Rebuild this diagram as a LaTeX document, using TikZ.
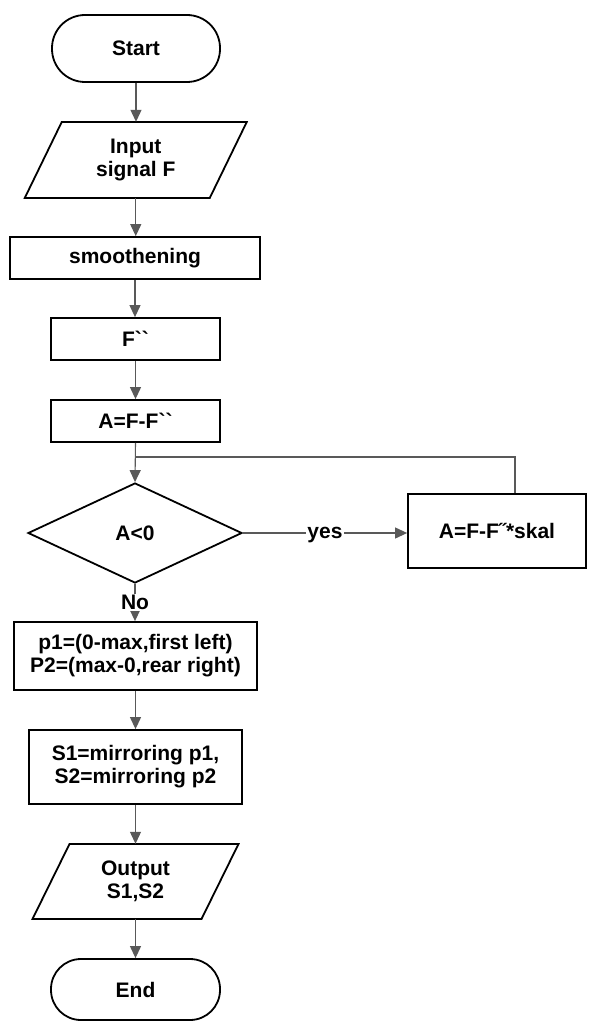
\documentclass[tikz,border=0pt]{standalone}
\usepackage{fontspec}
\setmainfont{Liberation Sans}[Ligatures=TeXOff]
\usetikzlibrary{arrows.meta,shapes.geometric,calc}
\tikzset{
  >={Triangle[length=12pt,width=11pt]},
  box/.style={draw=black, line width=1.8pt, fill=white, rectangle},
  term/.style={box, rounded corners=30pt},
  slab/.style={rectangle, minimum width=148pt, minimum height=76pt},
  para/.style={draw=black, line width=1.8pt},
  conn/.style={draw=black!65, line width=1.1pt},
  arr/.style={conn, ->},
  lbl/.style={fill=white, inner sep=1pt}
}
\begin{document}
\begin{tikzpicture}[x=1pt,y=1pt,
  every node/.style={font=\fontsize{21}{23}\selectfont\bfseries, align=center, inner sep=0pt}]
\useasboundingbox (0,0) rectangle (612,-1022);
\fill[white] (0,0) rectangle (612,-1022);

\node[term, minimum width=168pt, minimum height=67pt, rounded corners=33pt] (start) at (136,-48.5) {Start};
\node[slab] (in) at (135.75,-160) {Input\\signal F};
\draw[para] ($(in.center)+(-74,38)$) -- ($(in.center)+(111,38)$) -- ($(in.center)+(74,-38)$) -- ($(in.center)+(-111,-38)$) -- cycle;
\node[box, minimum width=250pt, minimum height=42pt] (smooth) at (135,-258) {smoothening};
\node[box, minimum width=169pt, minimum height=42pt] (fpp) at (135.5,-339) {F``};
\node[box, minimum width=169pt, minimum height=42pt] (afp) at (135.5,-421) {A=F-F``};
\node[draw=black, line width=1.8pt, diamond, minimum width=214pt, minimum height=100pt] (dec) at (135,-533) {A<0};
\node[box, minimum width=178pt, minimum height=74pt] (skal) at (497,-531) {A=F-F˝*skal};
\node[box, minimum width=243pt, minimum height=68pt] (p1) at (135.5,-656) {p1=(0-max,first left)\\P2=(max-0,rear right)};
\node[box, minimum width=213pt, minimum height=74pt] (s1) at (135.5,-767) {S1=mirroring p1,\\S2=mirroring p2};
\node[slab, minimum height=75pt] (out) at (135.5,-881.5) {Output\\S1,S2};
\draw[para] ($(out.center)+(-66,37.5)$) -- ($(out.center)+(103,37.5)$) -- ($(out.center)+(66,-37.5)$) -- ($(out.center)+(-103,-37.5)$) -- cycle;
\node[term, minimum width=169pt, minimum height=61pt, rounded corners=30pt] (end) at (135.5,-989.5) {End};

\coordinate (j) at (135,-457);
\draw[arr] (start.south) -- (start.south |- in.north);
\draw[arr] (in.south) -- (in.south |- smooth.north);
\draw[arr] (smooth.south) -- (smooth.south |- fpp.north);
\draw[arr] (fpp.south) -- (afp.north);
\draw[arr] (afp.south) -- (dec.north);
\draw[conn] ([xshift=18pt]skal.north) |- (j);
\draw[arr] (dec.east) -- node[lbl, pos=0.5, yshift=-2pt] (yes) {yes} (dec.east -| skal.west);
\draw[arr] (dec.south) -- node[lbl, pos=0.5] (no) {No} (dec.south |- p1.north);
\draw[arr] (p1.south) -- (s1.north);
\draw[arr] (s1.south) -- (s1.south |- out.north);
\draw[arr] (out.south) -- (end.north);
\end{tikzpicture}
\end{document}
